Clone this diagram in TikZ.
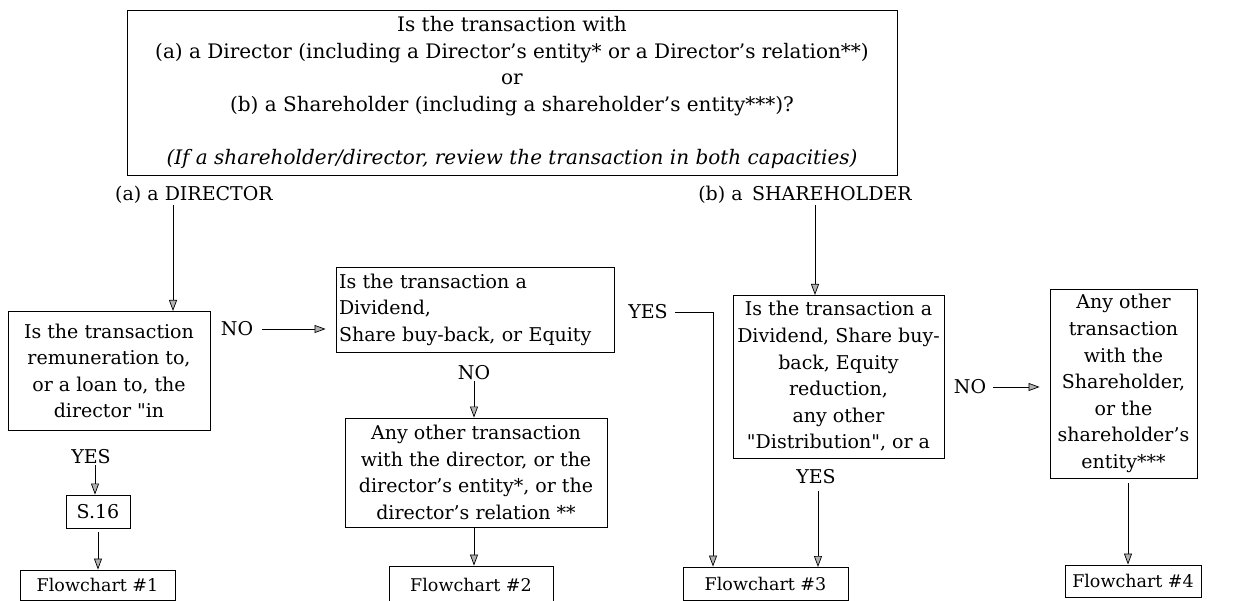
\documentclass[tikz,border=0pt]{standalone}
\usepackage{fontspec}
\setmainfont{DejaVu Serif}
\newfontfamily\plainq{DejaVu Serif}[Ligatures=TeXOff]
\usetikzlibrary{arrows.meta,calc}
\newcommand{\dq}{{\plainq"}}
\begin{document}
\begin{tikzpicture}[x=1pt,y=-1pt,
  box/.style={draw,line width=0.9pt,inner sep=0pt,align=center,font=\fontsize{19}{26.6}\selectfont},
  fbox/.style={box,font=\fontsize{17.5}{22}\selectfont},
  lbl/.style={inner sep=1pt,font=\fontsize{19}{26.6}\selectfont},
  arr/.style={line width=0.9pt,-{Triangle[length=11pt,width=8pt,fill=gray!60,line width=0.7pt]}}]
\clip (0,0) rectangle (1251,601);
\fill[white] (0,0) rectangle (1251,601);
% top question
\node[box,minimum width=770,minimum height=165,font=\fontsize{20}{26.6}\selectfont] (top) at (512,92.5)
 {Is the transaction with\\
  (a) a Director (including a Director's entity* or a Director's relation**)\\
  or\\
  (b) a Shareholder (including a shareholder's entity***)?\\[26.6pt]
  \textit{(If a shareholder/director, review the transaction in both capacities)}};
\node[lbl] (lblA) at (194,195) {(a) a DIRECTOR};
\node[lbl] (lblB) at (805,195) {(b) a\hspace{0.5em}SHAREHOLDER};
% director branch
\node[box,minimum width=202,minimum height=119] (q1) at (109,371)
 {Is the transaction\\ remuneration to,\\ or a loan to, the\\ director \dq in};
\draw[line width=0.9pt] (q1.south west) -- (q1.south east);
\node[box,minimum width=278,minimum height=85,text width=272,align=left] (q2) at (475,309.5)
 {Is the transaction a\\ Dividend,\\ Share buy-back, or Equity};
\node[box,minimum width=262,minimum height=109] (q3) at (476,472.5)
 {Any other transaction\\ with the director, or the\\ director's entity*, or the\\ director's relation **};
\node[box,minimum width=64,minimum height=33] (s16) at (98,511.5) {S.16};
\node[fbox,minimum width=155,minimum height=30] (f1) at (97.5,585) {Flowchart \#1};
\node[fbox,minimum width=164,minimum height=38] (f2) at (471,585) {Flowchart \#2};
% shareholder branch
\node[box,minimum width=211,minimum height=163] (q4) at (838.5,376.5)
 {Is the transaction a\\ Dividend, Share buy-\\ back, Equity\\ reduction,\\ any other\\ \dq Distribution\dq, or a};
\node[box,minimum width=147,minimum height=189] (q5) at (1123.5,383.5)
 {Any other\\ transaction\\ with the\\ Shareholder,\\ or the\\ shareholder's\\ entity***};
\node[fbox,minimum width=165,minimum height=33] (f3) at (765.5,583.5) {Flowchart \#3};
\node[fbox,minimum width=136,minimum height=32] (f4) at (1133,581) {Flowchart \#4};
% edge labels
\node[lbl] (no1) at (237,329) {NO};
\node[lbl] (yes1) at (91,457) {YES};
\node[lbl] (no2) at (474,373) {NO};
\node[lbl] (yes2) at (648,312) {YES};
\node[lbl] (yes3) at (816,477) {YES};
\node[lbl] (no3) at (970,387) {NO};
% coordinates
\coordinate (q1in) at (173,311);
\coordinate (q4in) at (815,295);
\coordinate (c3) at (713,312);
\coordinate (f3b) at (818,567);
\coordinate (q5out) at (1128,478);
% connectors
\draw[arr] (lblA.south -| q1in) -- (q1in);
\draw[arr,shorten <=8pt,shorten >=10pt] (no1.east) -- (no1 -| q2.west);
\draw[arr] (no2.south) -- (no2.south |- q3.north);
\draw[arr] (q3.south -| no2) -- (f2.north -| no2);
\draw[arr] ($(yes1.south)+(4,0)$) -- ($(s16.north)+(-3,0)$);
\draw[arr,shorten <=4pt] (s16.south) -- (f1.north -| s16);
\draw[arr] (lblB.south -| q4in) -- (q4in);
\draw[arr,shorten <=6pt] (yes2.east) -- (c3) -- (c3 |- f3.north);
\draw[arr,shorten <=6pt] (yes3.south -| f3b) -- (f3b);
\draw[arr,shorten <=6pt,shorten >=10pt] (no3.east) -- (no3 -| q5.west);
\draw[arr,shorten <=5pt] (q5out) -- (q5out |- f4.north);
\end{tikzpicture}
\end{document}
